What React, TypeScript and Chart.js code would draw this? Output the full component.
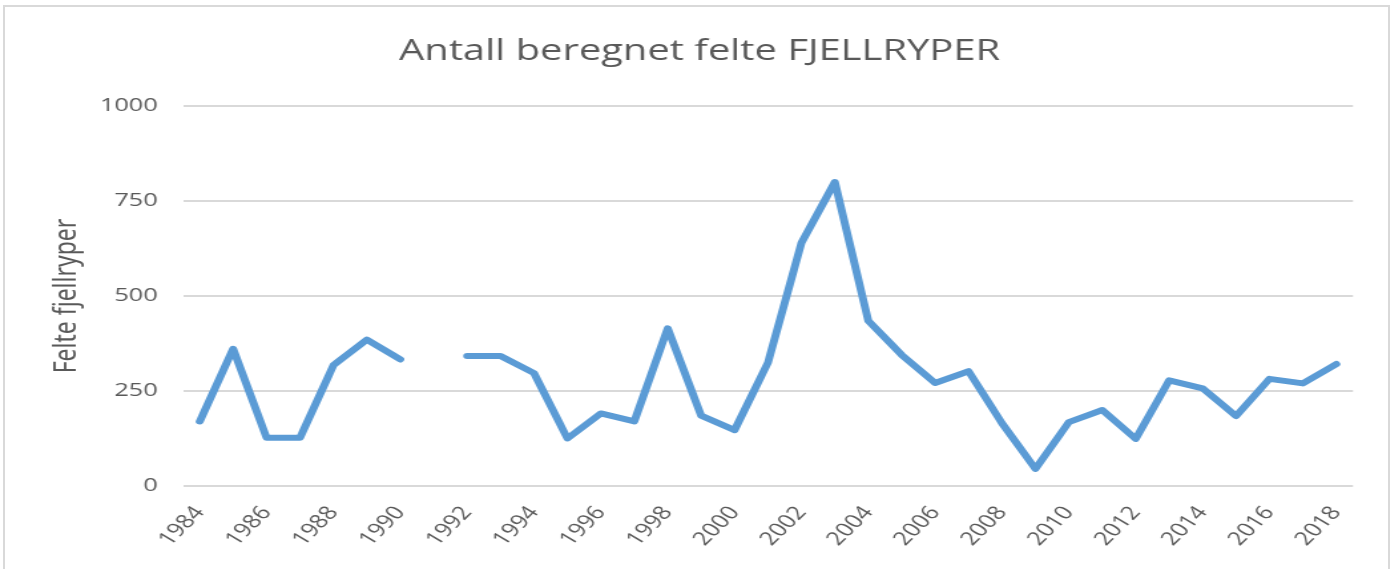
import React, { useEffect, useRef } from "react";
import { Chart, registerables } from "chart.js";

Chart.register(...registerables);

const years: string[] = [
  "1984", "1985", "1986", "1987", "1988", "1989", "1990", "1991", "1992", "1993",
  "1994", "1995", "1996", "1997", "1998", "1999", "2000", "2001", "2002", "2003",
  "2004", "2005", "2006", "2007", "2008", "2009", "2010", "2011", "2012", "2013",
  "2014", "2015", "2016", "2017", "2018",
];

const felte: (number | null)[] = [
  170, 361, 127, 127, 318, 385, 333, null, 342, 342,
  297, 125, 191, 170, 415, 185, 147, 325, 640, 800,
  435, 345, 271, 302, 165, 45, 168, 200, 124, 278,
  257, 184, 282, 270, 321,
];

const yTicks: number[] = [0, 250, 500, 750, 1000];

const titleText = "Antall beregnet felte FJELLRYPER";
const yTitle = "Felte fjellryper";

// the reference picture is horizontally stretched; draw at a narrower width and stretch
const SX = 1.33;
const PAGE_W = 1399;
const PAGE_H = 569;
const LOGICAL_W = Math.round(PAGE_W / SX);
const LEFT_W = 183 / SX;
const RIGHT_W = LOGICAL_W - 1353 / SX;

export default function App() {
  const ref = useRef<HTMLCanvasElement | null>(null);

  useEffect(() => {
    if (!ref.current) return;
    const chart = new Chart(ref.current, {
      type: "line",
      data: {
        labels: years,
        datasets: [
          {
            data: felte,
            borderColor: "#5b9bd5",
            backgroundColor: "#5b9bd5",
            borderWidth: 6,
            pointRadius: 0,
            tension: 0,
            spanGaps: false,
            borderCapStyle: "round",
            borderJoinStyle: "round",
          },
        ],
      },
      options: {
        animation: false,
        responsive: false,
        maintainAspectRatio: false,
        layout: { padding: 0 },
        plugins: {
          legend: { display: false },
          tooltip: { enabled: false },
          title: {
            display: true,
            text: titleText,
            color: "#595959",
            font: { family: "'Open Sans'", size: 30, weight: "normal" },
            padding: { top: 33, bottom: 37 },
          },
        },
        scales: {
          x: {
            type: "category",
            offset: true,
            grid: { display: false, drawTicks: false },
            border: { display: false },
            ticks: {
              autoSkip: false,
              maxRotation: 52,
              minRotation: 52,
              padding: 16,
              color: "#595959",
              font: { family: "'Open Sans'", size: 19 },
              callback: (_v: any, i: number) => (i % 2 === 0 ? years[i] : ""),
            },
            afterFit: (s: any) => {
              s.height = 83;
            },
          },
          y: {
            min: 0,
            max: 1000,
            afterBuildTicks: (s: any) => {
              s.ticks = yTicks.map((v) => ({ value: v }));
            },
            grid: { color: "#d9d9d9", lineWidth: 2, drawTicks: false },
            border: { display: false },
            ticks: {
              padding: 19,
              color: "#595959",
              font: { family: "'Open Sans'", size: 19 },
              callback: (v: any) => String(v),
            },
            title: {
              display: true,
              text: yTitle,
              color: "#595959",
              font: { family: "'Noto Sans'", size: 23 },
              padding: { top: 37, bottom: 0 },
            },
            afterFit: (s: any) => {
              s.width = LEFT_W;
            },
          },
          spacer: {
            type: "linear",
            position: "right",
            display: true,
            grid: { display: false, drawTicks: false },
            border: { display: false },
            ticks: { display: false },
            afterFit: (s: any) => {
              s.width = RIGHT_W;
            },
          },
        },
      },
    });
    return () => chart.destroy();
  }, []);

  return (
    <div style={{ position: "fixed", left: 0, top: 0, width: PAGE_W, height: PAGE_H, background: "#fff", overflow: "hidden" }}>
      <div
        style={{
          position: "absolute",
          left: 3,
          top: 5,
          width: 1387,
          height: 600,
          border: "2px solid #d9d9d9",
          boxSizing: "border-box",
        }}
      />
      <div
        style={{
          position: "absolute",
          left: 0,
          top: 0,
          width: LOGICAL_W,
          height: PAGE_H,
          transform: `scaleX(${SX})`,
          transformOrigin: "0 0",
        }}
      >
        <canvas ref={ref} width={LOGICAL_W} height={PAGE_H} style={{ display: "block" }} />
      </div>
    </div>
  );
}
